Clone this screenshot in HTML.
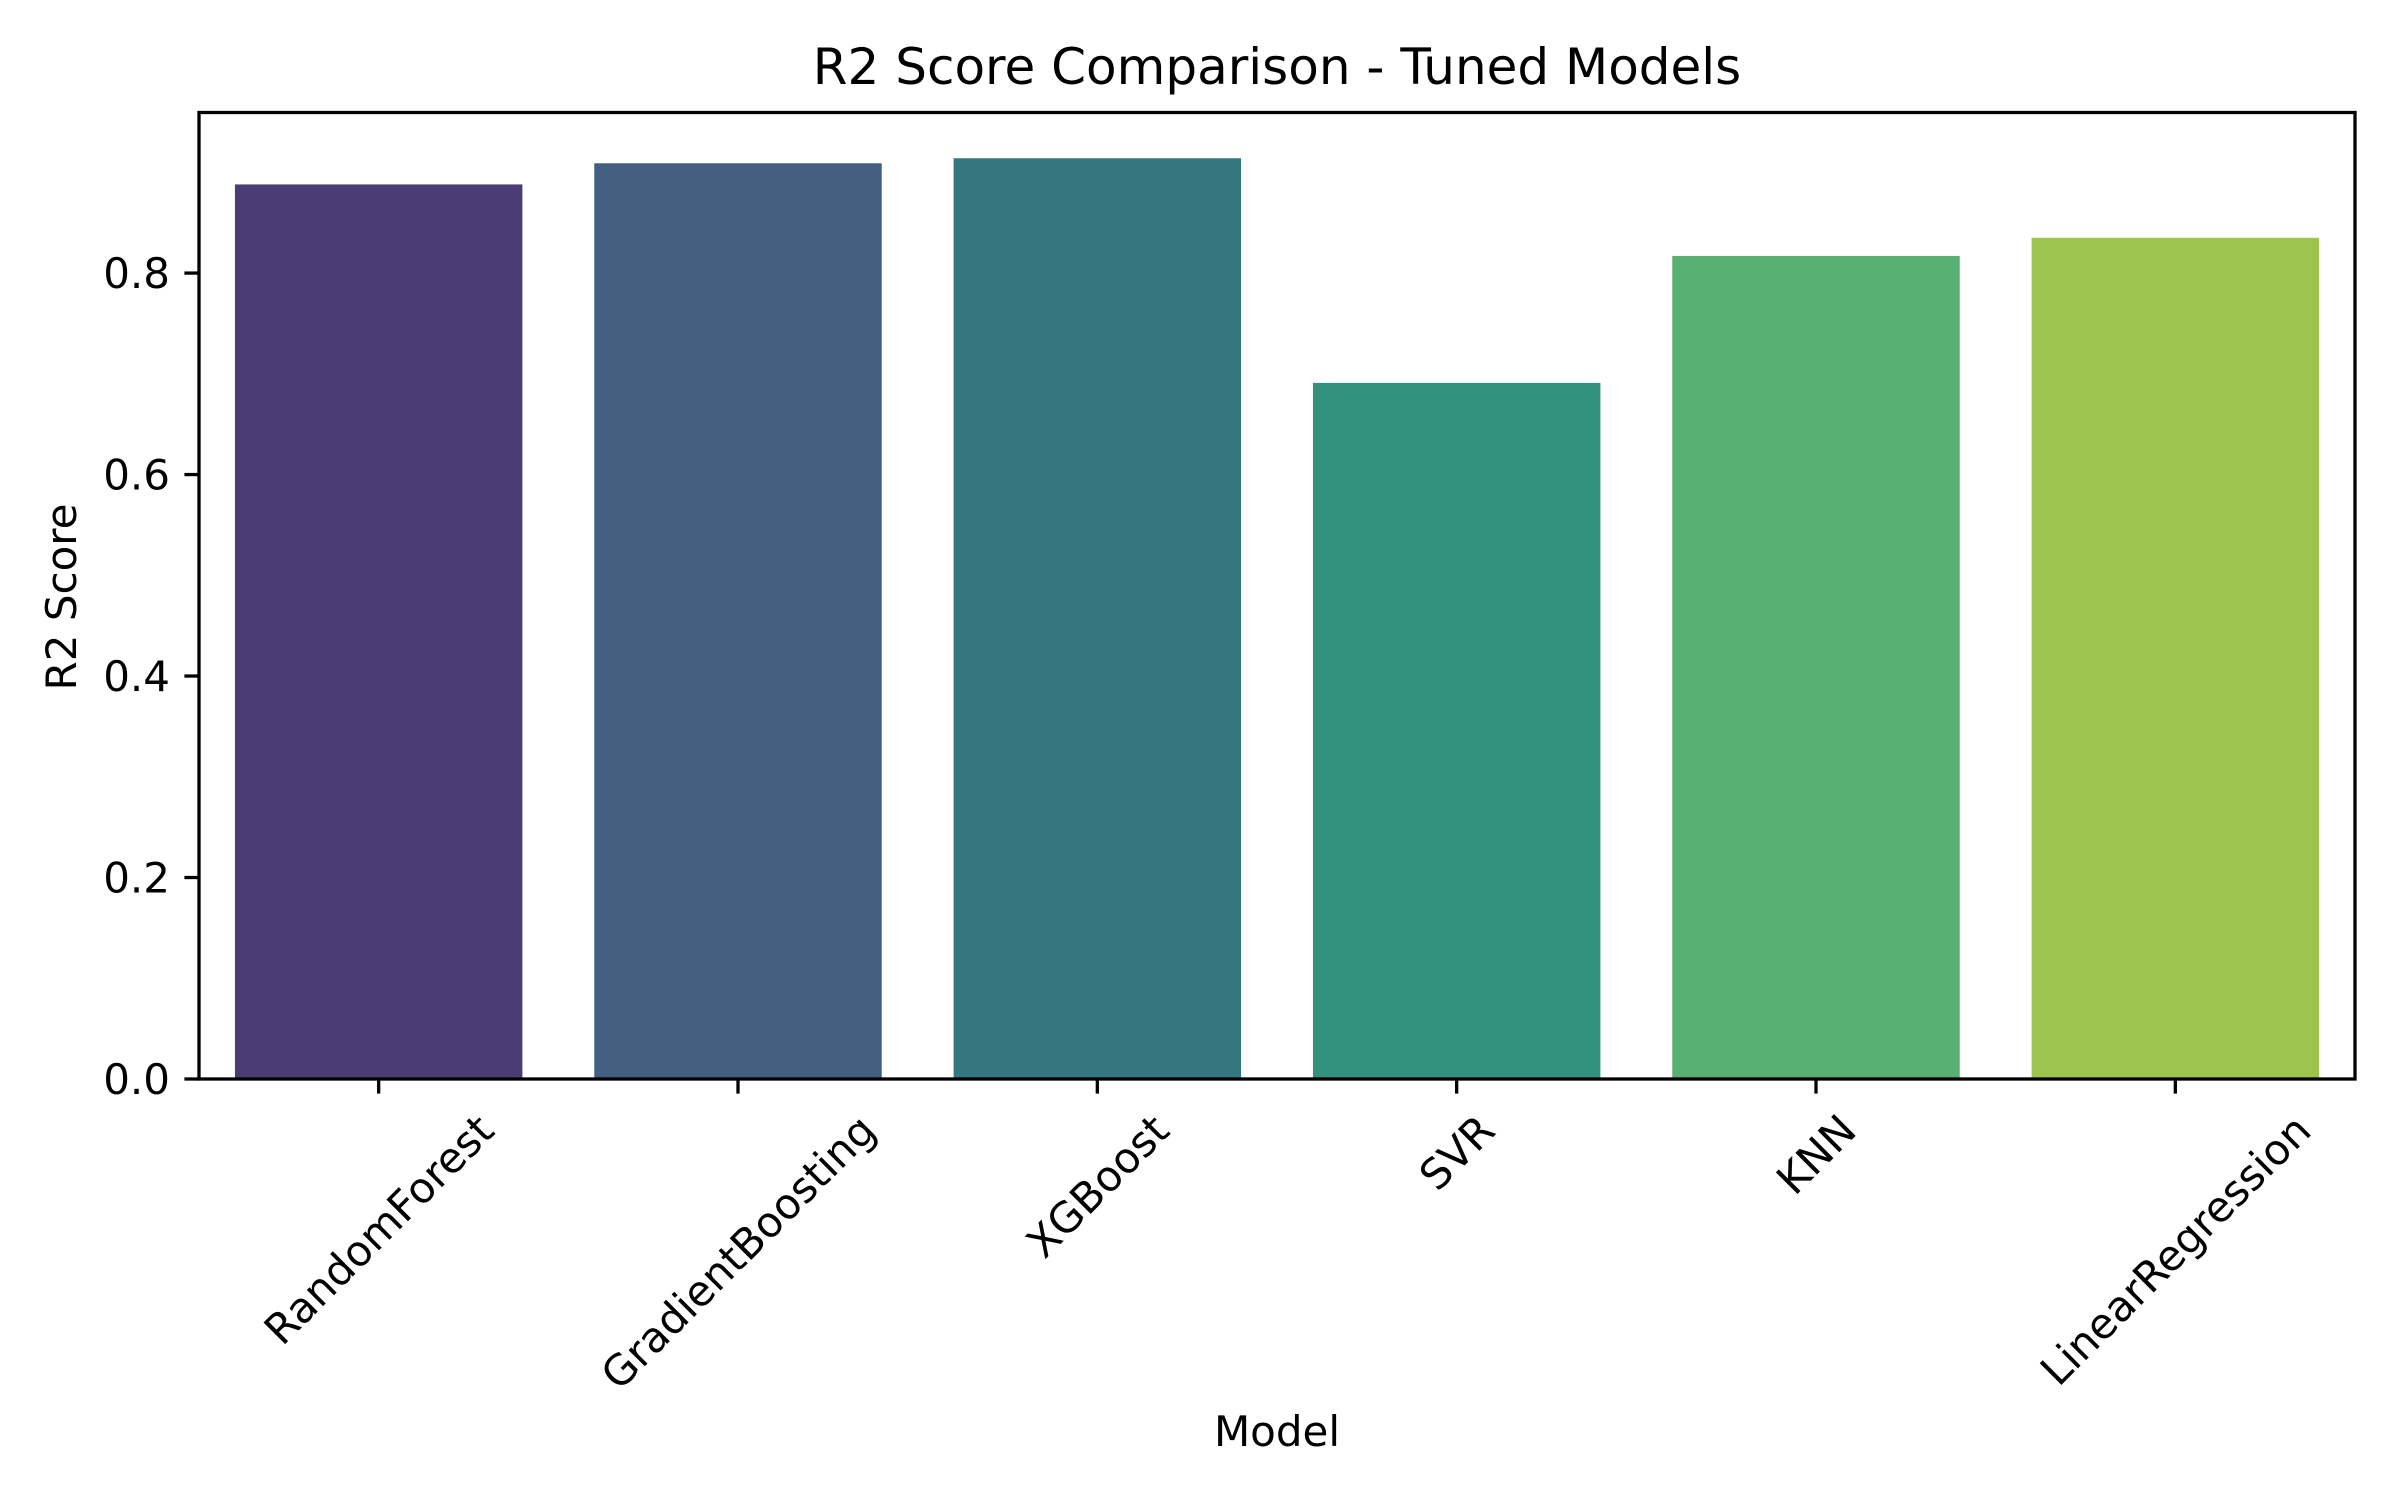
<!DOCTYPE html>
<html><head><meta charset="utf-8"><style>
html,body{margin:0;padding:0;background:#fff;}
svg{display:block;font-family:"DejaVu Sans","Liberation Sans",sans-serif;}
</style></head><body>
<svg id="chart" width="2400" height="1500" viewBox="0 0 2400 1500" xmlns="http://www.w3.org/2000/svg">
<rect width="2400" height="1500" fill="#fff"/>
<text x="1277" y="84" font-size="50" text-anchor="middle" fill="#000">R2 Score Comparison - Tuned Models</text>
<g id="bars"></g>
<g id="yaxis"></g>
<g id="xaxis"></g>
<rect x="199" y="112.5" width="2156" height="966.5" fill="none" stroke="#000" stroke-width="3.3"/>
<text x="1277" y="1446" font-size="42" text-anchor="middle" fill="#000">Model</text>
<text transform="translate(76,597) rotate(-90)" font-size="42" text-anchor="middle" fill="#000">R2 Score</text>
</svg>
<script>
const categories = ["RandomForest","GradientBoosting","XGBoost","SVR","KNN","LinearRegression"];
const scores = [0.888, 0.909, 0.914, 0.691, 0.817, 0.835];
const colors = ["#4b3c73","#425f80","#35767f","#32917c","#58b073","#9bc54c"];
const yTicks = [0, 0.2, 0.4, 0.6, 0.8];
const yTickLabels = ["0.0","0.2","0.4","0.6","0.8"];

const NS = "http://www.w3.org/2000/svg";
const L = 199, R = 2355, T = 112.5, B = 1079;
const yMax = 0.9594;
function yScale(v){ return B - v / yMax * (B - T); }
function xScale(i){ return L + (i + 0.5) * (R - L) / categories.length; }
const band = (R - L) / categories.length * 0.8;

const bars = document.getElementById('bars');
categories.forEach((c, i) => {
  const r = document.createElementNS(NS, 'rect');
  r.setAttribute('x', xScale(i) - band / 2);
  r.setAttribute('y', yScale(scores[i]));
  r.setAttribute('width', band);
  r.setAttribute('height', B - yScale(scores[i]));
  r.setAttribute('fill', colors[i]);
  
  
  bars.appendChild(r);
});

const ya = document.getElementById('yaxis');
yTicks.forEach((v, i) => {
  const y = yScale(v);
  const l = document.createElementNS(NS, 'line');
  l.setAttribute('x1', L - 14.6); l.setAttribute('x2', L);
  l.setAttribute('y1', y); l.setAttribute('y2', y);
  l.setAttribute('stroke', '#000'); l.setAttribute('stroke-width', '3.3');
  
  
  ya.appendChild(l);
  const t = document.createElementNS(NS, 'text');
  t.setAttribute('x', L - 29); t.setAttribute('y', y + 15);
  t.setAttribute('font-size', '42'); t.setAttribute('text-anchor', 'end');
  t.textContent = yTickLabels[i];
  
  
  ya.appendChild(t);
});

const xa = document.getElementById('xaxis');
categories.forEach((c, i) => {
  const x = xScale(i);
  const l = document.createElementNS(NS, 'line');
  l.setAttribute('x1', x); l.setAttribute('x2', x);
  l.setAttribute('y1', B); l.setAttribute('y2', B + 14.6);
  l.setAttribute('stroke', '#000'); l.setAttribute('stroke-width', '3.3');
  
  
  xa.appendChild(l);
  const t = document.createElementNS(NS, 'text');
  t.setAttribute('font-size', '42'); t.setAttribute('text-anchor', 'middle');
  t.textContent = c;
  
  
  xa.appendChild(t);
  const w = t.getComputedTextLength();
  const h = 40;
  const bh = (w + h) / Math.SQRT2;
  const cy = B + 14.6 + 14.6 + bh / 2;
  t.setAttribute('x', x); t.setAttribute('y', cy + 15);
  t.setAttribute('transform', 'rotate(-45 ' + x + ' ' + cy + ')');
});
</script>
</body></html>
